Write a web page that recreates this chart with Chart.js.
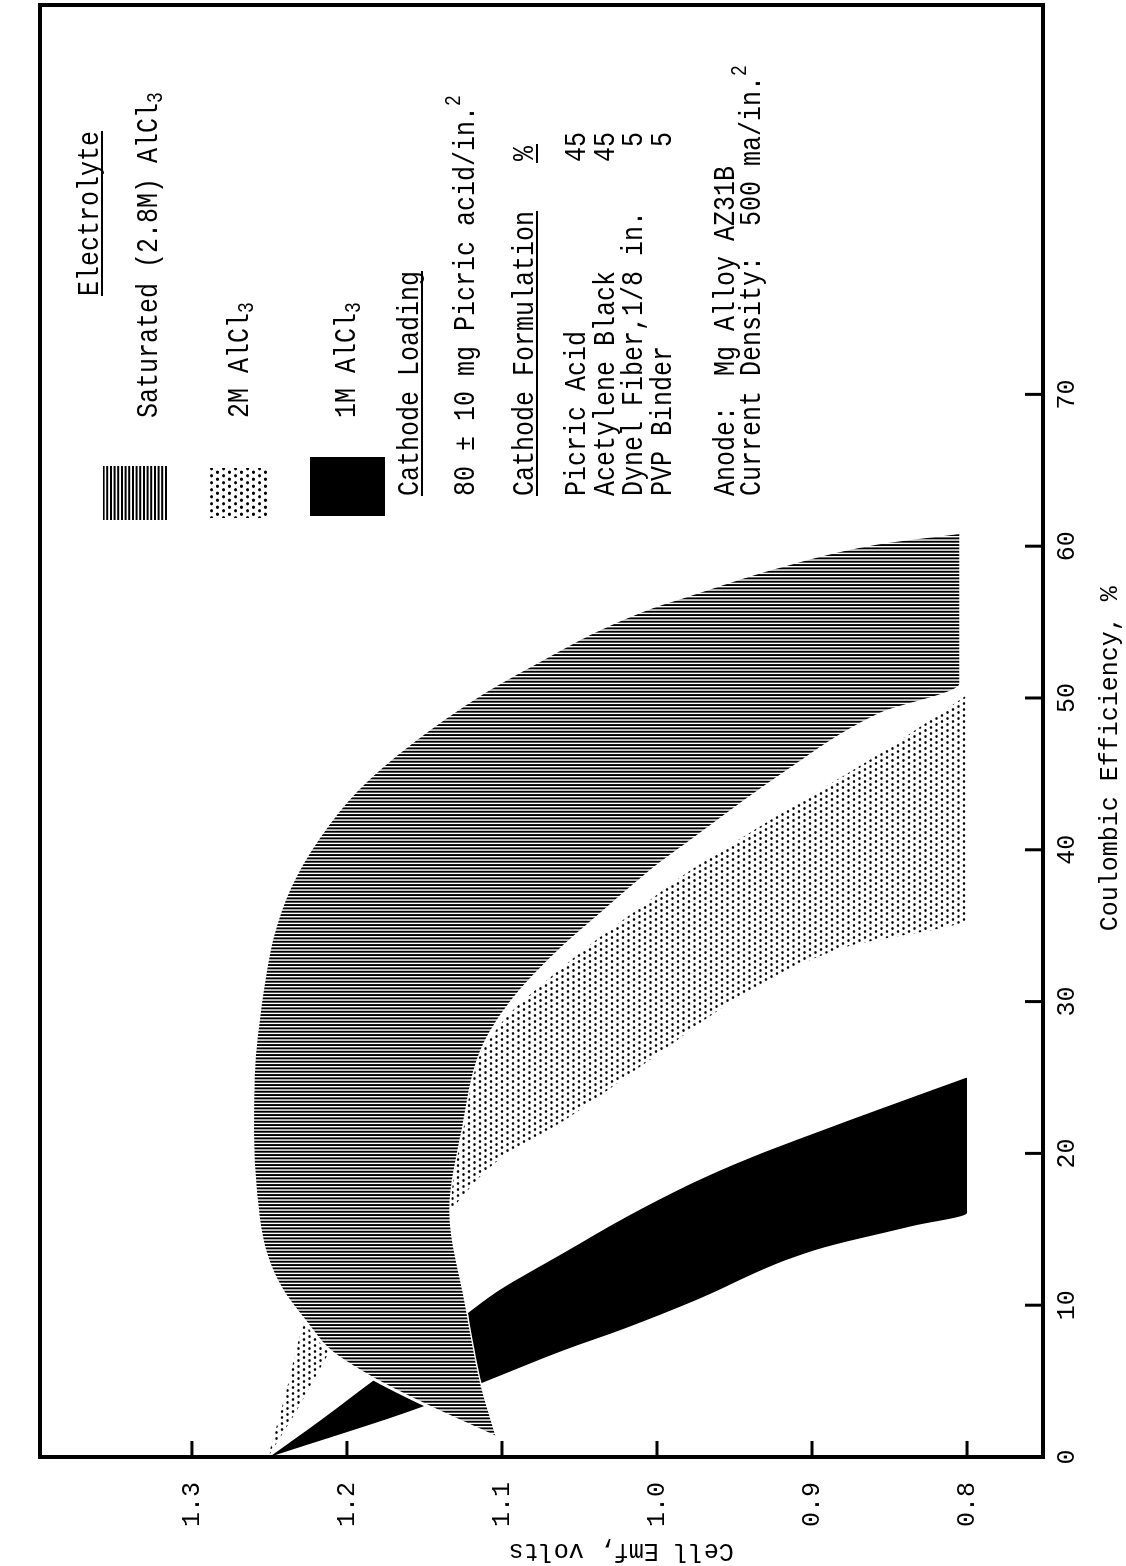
<!DOCTYPE html>
<html>
<head>
<meta charset="utf-8">
<title>Cell Emf vs Coulombic Efficiency</title>
<script src="https://cdn.jsdelivr.net/npm/chart.js@4.4.1/dist/chart.umd.min.js"></script>
<style>
  html, body { margin: 0; padding: 0; background: #fff; overflow: hidden; width: 1126px; height: 1566px; }
  /* the figure is laid out landscape and turned a quarter turn onto the portrait page */
  #wrap { position: absolute; left: 0; top: 0; width: 1566px; height: 1126px;
          transform-origin: 0 0; transform: translateY(1566px) rotate(-90deg); background: #fff; }
  canvas { display: block; }
</style>
</head>
<body>
<div id="wrap"><canvas id="c" width="1566" height="1126"></canvas></div>
<script>
// ---- axis ticks ----
const efficiencyTicks = [0, 10, 20, 30, 40, 50, 60, 70];
const emfTicks = [0.8, 0.9, 1.0, 1.1, 1.2, 1.3];

// ---- Saturated (2.8M) AlCl3 band: upper / lower Emf limits vs efficiency ----
const satUpperX = [1.3, 3.4, 5.1, 7.0, 8.8, 11.0, 13.6, 17.5, 21.5, 26.0, 31.1, 34.3, 37.5, 40.7, 43.9, 47.1, 50.3, 52.5, 54.5, 56.0, 56.7, 58.7, 60.2, 60.9];
const satUpperV = [1.104, 1.149, 1.182, 1.211, 1.226, 1.242, 1.253, 1.259, 1.261, 1.260, 1.254, 1.248, 1.237, 1.219, 1.194, 1.158, 1.113, 1.075, 1.038, 1.003, 0.982, 0.920, 0.858, 0.805];
const satLowerX = [1.3, 4.8, 10.1, 16.2, 21.6, 26.8, 30.0, 33.0, 36.0, 38.8, 40.4, 45.0, 49.0, 51.0, 60.9];
const satLowerV = [1.104, 1.114, 1.124, 1.134, 1.126, 1.114, 1.095, 1.068, 1.035, 1.003, 0.982, 0.920, 0.857, 0.805, 0.805];

// ---- 2M AlCl3 band ----
const m2UpperX = [0, 4.0, 8.8, 12.0, 16.0, 20.0, 24.0, 26.8, 29.0, 31.5, 34.0, 36.8, 38.4, 42.4, 46.3, 50.2];
const m2UpperV = [1.251, 1.240, 1.228, 1.215, 1.190, 1.162, 1.135, 1.113, 1.097, 1.070, 1.040, 1.003, 0.982, 0.920, 0.857, 0.800];
const m2LowerX = [0, 3.5, 7.0, 10.0, 13.0, 16.2, 19.5, 22.1, 26.5, 30.7, 33.6, 35.5, 50.2];
const m2LowerV = [1.251, 1.230, 1.211, 1.193, 1.167, 1.134, 1.103, 1.061, 1.000, 0.940, 0.878, 0.800, 0.800];

// ---- 1M AlCl3 band ----
const m1UpperX = [0, 2.5, 5.1, 7.2, 9.4, 10.9, 13.4, 15.8, 18.0, 19.7, 22.1, 25.0];
const m1UpperV = [1.250, 1.216, 1.182, 1.152, 1.123, 1.103, 1.061, 1.020, 0.978, 0.940, 0.878, 0.800];
const m1LowerX = [0, 3.4, 5.0, 7.0, 8.5, 10.2, 13.6, 15.2, 16.1, 25.0];
const m1LowerV = [1.250, 1.149, 1.110, 1.061, 1.020, 0.978, 0.899, 0.836, 0.800, 0.800];

// ---- legend and notes text ----
const legendTitle = 'Electrolyte';
const legendLabels = ['Saturated (2.8M) AlCl_3', '2M AlCl_3', '1M AlCl_3'];
const loadingTitle = 'Cathode Loading';
const loadingText = '80 \u00B1 10 mg Picric acid/in.^2';
const formulationTitle = 'Cathode Formulation';
const formulationNames = ['Picric Acid', 'Acetylene Black', 'Dynel Fiber,1/8 in.', 'PVP Binder'];
const formulationPct = ['45', '45', '5', '5'];
const anodeLines = ['Anode:  Mg Alloy AZ31B', 'Current Density:  500 ma/in.^2'];
const xTitle = 'Coulombic Efficiency, %';
const yTitle = 'Cell Emf, volts';

const FONT_FAMILY = '"Liberation Mono", "DejaVu Sans Mono", monospace';
const STRETCH = 1.2;

const canvas = document.getElementById('c');
const ctx0 = canvas.getContext('2d');

function makePattern(w, h, draw) {
  const c = document.createElement('canvas');
  c.width = w; c.height = h;
  const g = c.getContext('2d');
  g.fillStyle = '#fff'; g.fillRect(0, 0, w, h);
  g.fillStyle = '#000';
  draw(g);
  return ctx0.createPattern(c, 'repeat');
}
// fine ruled shading for the saturated band
const bandRule = makePattern(10, 2, g => { [0, 3.33, 6.67].forEach(x => g.fillRect(x, 0, 1.9, 2)); });
// ruled swatch (rules run across the band rules)
const swatchRule = makePattern(2, 11, g => { [0, 3.6, 7.2].forEach(y => g.fillRect(0, y, 2, 2.0)); });
// stipple for the 2M band
const bandDots = makePattern(6, 11, g => {
  g.beginPath(); g.arc(1.5, 1.5, 1.35, 0, Math.PI * 2); g.fill();
  g.beginPath(); g.arc(4.5, 7.0, 1.35, 0, Math.PI * 2); g.fill();
});
const swatchDots = makePattern(7, 12, g => {
  g.beginPath(); g.arc(1.75, 1.5, 1.6, 0, Math.PI * 2); g.fill();
  g.beginPath(); g.arc(5.25, 7.5, 1.6, 0, Math.PI * 2); g.fill();
});

const pts = (xs, vs) => xs.map((x, i) => ({ x, y: vs[i] }));

function lineSet(label, xs, vs, fill, bg, order, edge) {
  return {
    label, data: pts(xs, vs), fill, backgroundColor: bg, order,
    borderColor: edge ? '#fff' : 'rgba(0,0,0,0)', borderWidth: edge ? 3 : 0,
    pointRadius: 0, pointHoverRadius: 0, cubicInterpolationMode: 'monotone'
  };
}

// text with _n subscripts and ^n superscripts, stretched vertically like typewriter type
function typeText(ctx, s, x, y, size) {
  const parts = s.split(/(_\d|\^\d)/).filter(p => p.length);
  let cx = x;
  for (const p of parts) {
    const sub = p[0] === '_', sup = p[0] === '^';
    const t = (sub || sup) ? p.slice(1) : p;
    const fs = (sub || sup) ? size * 0.72 : size;
    ctx.font = `${fs}px ${FONT_FAMILY}`;
    const dy = sub ? 5 : (sup ? -14 : 0);
    ctx.save();
    ctx.translate(cx, y + dy);
    ctx.scale(1, STRETCH);
    ctx.textAlign = 'left';
    ctx.textBaseline = 'alphabetic';
    ctx.fillText(t, 0, 0);
    ctx.restore();
    cx += ctx.measureText(t).width;
  }
  return cx - x;
}
function underline(ctx, x, w, y) {
  ctx.save(); ctx.lineWidth = 2; ctx.beginPath(); ctx.moveTo(x, y); ctx.lineTo(x + w, y); ctx.stroke(); ctx.restore();
}

const decor = {
  id: 'decor',
  afterDraw(chart) {
    const { ctx, chartArea: a, scales: { x, y } } = chart;
    ctx.save();
    ctx.strokeStyle = '#000';
    ctx.fillStyle = '#000';

    // tick marks pointing into the plot
    ctx.lineWidth = 3;
    efficiencyTicks.forEach(v => {
      const px = x.getPixelForValue(v);
      ctx.beginPath(); ctx.moveTo(px, a.bottom); ctx.lineTo(px, a.bottom - 18); ctx.stroke();
    });
    emfTicks.forEach(v => {
      const py = y.getPixelForValue(v);
      ctx.beginPath(); ctx.moveTo(a.left, py); ctx.lineTo(a.left + 16, py); ctx.stroke();
    });

    // frame
    ctx.lineWidth = 4;
    ctx.strokeRect(a.left, a.top, a.right - a.left, a.bottom - a.top);

    // axis titles
    ctx.font = `25px ${FONT_FAMILY}`;
    ctx.textAlign = 'center';
    ctx.textBaseline = 'alphabetic';
    ctx.fillText(xTitle, x.getPixelForValue(46.0), 1117);
    ctx.save();
    ctx.translate(14, y.getPixelForValue(1.023));
    ctx.rotate(-Math.PI / 2);
    ctx.fillText(yTitle, 0, 8);
    ctx.restore();

    // legend
    const S = 25;
    let w = typeText(ctx, legendTitle, 1270, 98, S);
    underline(ctx, 1270, w, 102);
    const swatches = [
      { fill: swatchRule, r: [1046, 103, 54, 65], base: 157 },
      { fill: swatchDots, r: [1048, 209, 50, 60], base: 248 },
      { fill: '#000',     r: [1050, 310, 59, 75], base: 355 }
    ];
    swatches.forEach((s, i) => {
      ctx.fillStyle = s.fill;
      ctx.fillRect(...s.r);
      ctx.fillStyle = '#000';
      typeText(ctx, legendLabels[i], 1148, s.base, S);
    });

    // cathode / anode notes
    w = typeText(ctx, loadingTitle, 1070, 418, S);
    underline(ctx, 1070, w, 422);
    typeText(ctx, loadingText, 1070, 474, S);
    w = typeText(ctx, formulationTitle, 1070, 533, S);
    underline(ctx, 1070, w, 537);
    const pw = typeText(ctx, '%', 1405, 533, S);
    underline(ctx, 1403, pw + 4, 537);
    const rows = [585, 614, 642, 671];
    formulationNames.forEach((n, i) => {
      typeText(ctx, n, 1070, rows[i], S);
      ctx.font = `${S}px ${FONT_FAMILY}`;
      const tw = ctx.measureText(formulationPct[i]).width;
      typeText(ctx, formulationPct[i], 1434 - tw, rows[i], S);
    });
    typeText(ctx, anodeLines[0], 1070, 734, S);
    typeText(ctx, anodeLines[1], 1070, 760, S);

    ctx.restore();
  }
};

new Chart(canvas, {
  type: 'line',
  data: {
    datasets: [
      lineSet('Saturated (2.8M) AlCl3', satUpperX, satUpperV, '+1', bandRule, 0, true),
      lineSet('Saturated lower', satLowerX, satLowerV, false, bandRule, 0, true),
      lineSet('1M AlCl3', m1UpperX, m1UpperV, '+1', '#000', 1, false),
      lineSet('1M lower', m1LowerX, m1LowerV, false, '#000', 1, false),
      lineSet('2M AlCl3', m2UpperX, m2UpperV, '+1', bandDots, 2, false),
      lineSet('2M lower', m2LowerX, m2LowerV, false, bandDots, 2, false)
    ]
  },
  options: {
    responsive: false,
    animation: false,
    devicePixelRatio: 1,
    layout: { padding: { left: 0, right: 5, top: 8, bottom: 0 } },
    plugins: { legend: { display: false }, tooltip: { enabled: false } },
    scales: {
      x: {
        type: 'linear', min: 0, max: 95.65,
        afterBuildTicks: s => { s.ticks = efficiencyTicks.map(v => ({ value: v })); },
        afterFit: s => { s.height = 83; },
        grid: { display: false, drawTicks: false },
        border: { display: false },
        ticks: { color: '#000', font: { family: FONT_FAMILY, size: 25 }, padding: 9, maxRotation: 0, autoSkip: false }
      },
      y: {
        type: 'linear', min: 0.751, max: 1.398,
        afterBuildTicks: s => { s.ticks = emfTicks.map(v => ({ value: v })); },
        afterFit: s => { s.width = 109; },
        grid: { display: false, drawTicks: false },
        border: { display: false },
        ticks: { color: '#000', font: { family: FONT_FAMILY, size: 25 }, padding: 25, autoSkip: false,
                 callback: v => Number(v).toFixed(1) }
      }
    }
  },
  plugins: [decor]
});
</script>
</body>
</html>
